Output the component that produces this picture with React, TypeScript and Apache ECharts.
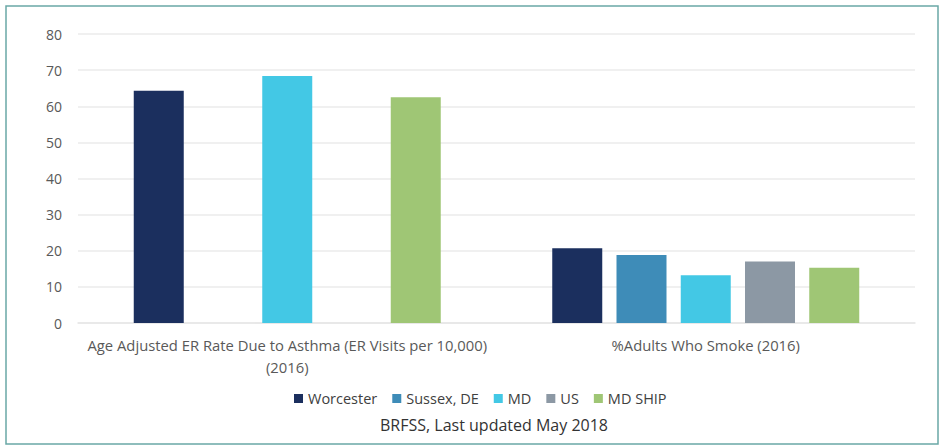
import React, { useEffect, useRef } from "react";
import * as echarts from "echarts";

const categories = [
  "Age Adjusted ER Rate Due to Asthma (ER Visits per 10,000)\n(2016)",
  "%Adults Who Smoke (2016)",
];
const seriesNames = ["Worcester", "Sussex, DE", "MD", "US", "MD SHIP"];
const worcester = [64.3, 20.7];
const sussex = [null, 18.8];
const md = [68.4, 13.2];
const us = [null, 17.0];
const mdShip = [62.5, 15.3];
const colors = ["#1b2f5e", "#3e8cb8", "#43c8e5", "#8c98a4", "#9fc675"];
const yTicks = { min: 0, max: 80, interval: 10 };
const footer = "BRFSS, Last updated May 2018";

export default function App() {
  const ref = useRef<HTMLDivElement>(null);
  useEffect(() => {
    document.body.style.margin = "0";
    if (!ref.current) return;
    const chart = echarts.init(ref.current, undefined, { renderer: "svg" });
    const values = [worcester, sussex, md, us, mdShip];
    const font = "'Open Sans', 'Liberation Sans', sans-serif";
    chart.setOption({
      animation: false,
      backgroundColor: "#ffffff",
      textStyle: { fontFamily: font },
      grid: { left: 78, right: 24, top: 34, bottom: 122, containLabel: false },
      xAxis: {
        type: "category",
        data: categories,
        axisTick: { show: false },
        axisLine: { lineStyle: { color: "#e6e6e6", width: 1.5 } },
        axisLabel: {
          color: "#595959",
          fontSize: 14.8,
          fontFamily: font,
          margin: 11,
          lineHeight: 22,
          interval: 0,
        },
      },
      yAxis: {
        type: "value",
        min: yTicks.min,
        max: yTicks.max,
        interval: yTicks.interval,
        axisLine: { show: false },
        axisTick: { show: false },
        splitLine: { lineStyle: { color: "#ebebeb", width: 1.5 } },
        axisLabel: { color: "#595959", fontSize: 14, fontFamily: font, margin: 16 },
      },
      legend: {
        data: seriesNames,
        top: 391,
        left: 294,
        padding: 0,
        icon: "rect",
        itemWidth: 9,
        itemHeight: 9,
        itemGap: 15,
        textStyle: { color: "#404040", fontSize: 14.5, fontFamily: font },
      },
      series: seriesNames.map((name, i) => ({
        name,
        type: "bar",
        data: values[i],
        barWidth: 50,
        barGap: "28.5%",
        itemStyle: { color: colors[i] },
      })),
      graphic: [
        {
          type: "rect",
          shape: { x: 6, y: 6, width: 932, height: 438 },
          style: { fill: "none", stroke: "#6aa8a6", lineWidth: 1.5 },
          silent: true,
        },
        {
          type: "text",
          left: 380,
          top: 417,
          style: {
            text: footer,
            fill: "#333333",
            fontSize: 16,
            fontFamily: font,
          },
        },
      ],
    });
    return () => chart.dispose();
  }, []);
  return <div ref={ref} style={{ width: 939, height: 445 }} />;
}
